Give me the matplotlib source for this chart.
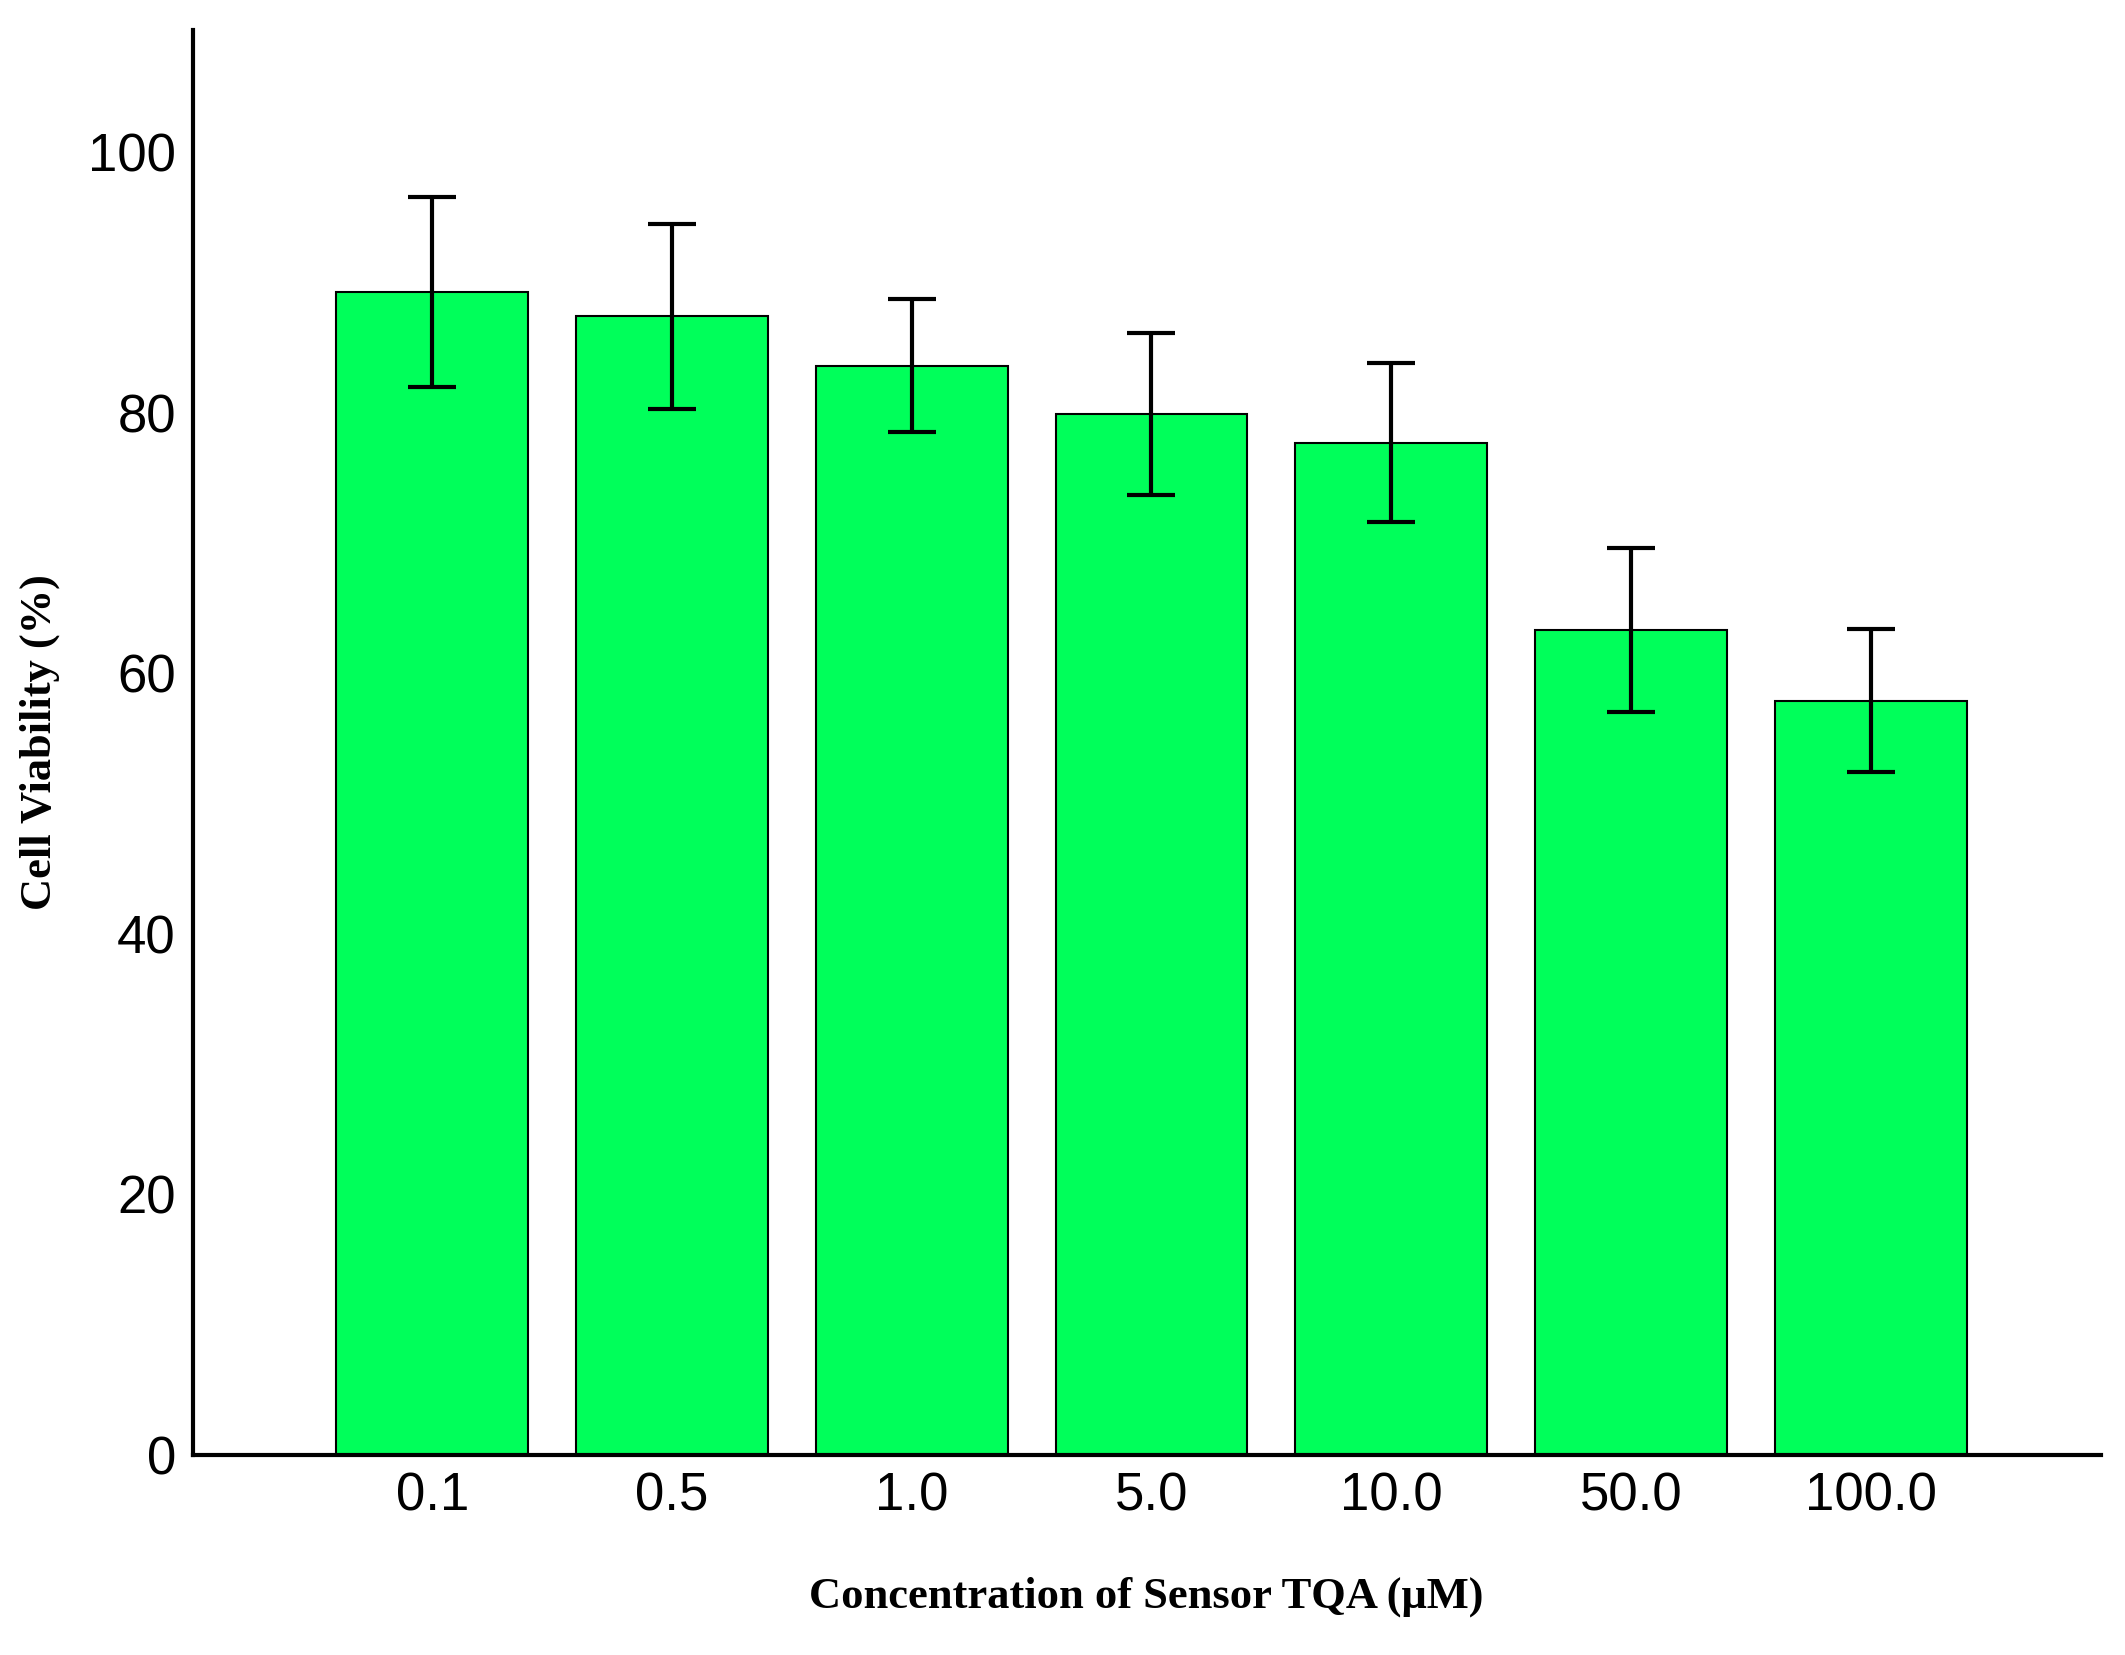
import matplotlib
matplotlib.use("Agg")
import matplotlib.pyplot as plt

categories = ["0.1", "0.5", "1.0", "5.0", "10.0", "50.0", "100.0"]
viability = [89.3, 87.4, 83.6, 79.9, 77.7, 63.3, 57.9]
errors = [7.3, 7.1, 5.1, 6.2, 6.1, 6.3, 5.5]
yticks = [0, 20, 40, 60, 80, 100]

fig = plt.figure(figsize=(21.25, 16.55), dpi=100)
ax = fig.add_axes([0.0906, 0.121, 0.898, 0.861])
x = list(range(len(categories)))
ax.bar(x, viability, width=0.8, color="#00ff5a", edgecolor="black", linewidth=1.5)
ax.errorbar(x, viability, yerr=errors, fmt="none", ecolor="black", elinewidth=3,
            capsize=17, capthick=3)
ax.set_xlim(-1.0, 6.96)
ax.set_ylim(0, 109.4)
ax.set_yticks(yticks)
ax.set_xticks(x)
ax.set_xticklabels(categories)
for s in ["top", "right"]:
    ax.spines[s].set_visible(False)
for s in ["left", "bottom"]:
    ax.spines[s].set_linewidth(3)
ax.tick_params(axis="both", length=0, labelsize=38, pad=12)
for lab in ax.get_xticklabels() + ax.get_yticklabels():
    lab.set_fontfamily("Liberation Sans")
ax.set_ylabel("Cell Viability (%)", fontfamily="Liberation Serif", fontweight="bold",
              fontsize=32, labelpad=20)
ax.set_xlabel("Concentration of Sensor TQA (μM)", fontfamily="Liberation Serif",
              fontweight="bold", fontsize=32, labelpad=40)
fig.savefig("out.png", dpi=100)
